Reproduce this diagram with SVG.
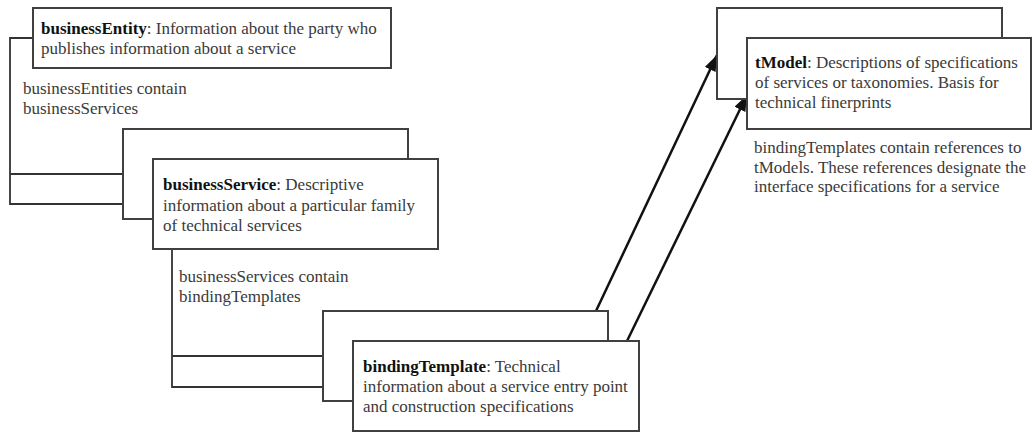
<svg xmlns="http://www.w3.org/2000/svg" width="1032" height="433" viewBox="0 0 1032 433">
<style>
  .box { fill: #ffffff; stroke: #404040; stroke-width: 2; }
  .link { fill: none; stroke: #333333; stroke-width: 1.8; }
  .arrow { fill: none; stroke: #111111; stroke-width: 2.5; marker-end: url(#head); }
  text { font-family: "Liberation Serif", "Times New Roman", serif; font-size: 17px; fill: #3a3a3a; }
  .b { font-weight: bold; fill: #111111; }
</style>
<defs>
  <marker id="head" markerUnits="userSpaceOnUse" markerWidth="18" markerHeight="14" refX="16" refY="6" orient="auto">
    <path d="M0,0 L16,6 L0,12 Z" fill="#111111"/>
  </marker>
</defs>
<rect width="1032" height="433" fill="#ffffff"/>

<g id="connectors">
  <path class="link" d="M33,38 H10 V204 H153 M10,174 H123"/>
  <path class="link" d="M172,249 V387 H353 M172,356 H323"/>
  <path class="arrow" d="M596,311 L717,55"/>
  <path class="arrow" d="M627,341 L747,95"/>
</g>

<g id="businessEntity">
  <rect class="box" x="33" y="8" width="358" height="60"/>
  <text x="41" y="34"><tspan class="b">businessEntity</tspan>: Information about the party who</text>
  <text x="41" y="54">publishes information about a service</text>
</g>
<g id="label-entities">
  <text x="23" y="94">businessEntities contain</text>
  <text x="23" y="114">businessServices</text>
</g>

<g id="businessService">
  <rect class="box" x="123" y="129" width="285" height="90"/>
  <rect class="box" x="153" y="159" width="285" height="90"/>
  <text x="163" y="190"><tspan class="b">businessService</tspan>: Descriptive</text>
  <text x="163" y="211">information about a particular family</text>
  <text x="163" y="231">of technical services</text>
</g>
<g id="label-services">
  <text x="179" y="282">businessServices contain</text>
  <text x="179" y="302">bindingTemplates</text>
</g>

<g id="bindingTemplate">
  <rect class="box" x="323" y="311" width="285" height="90"/>
  <rect class="box" x="353" y="341" width="286" height="90"/>
  <text x="363" y="372"><tspan class="b">bindingTemplate</tspan>: Technical</text>
  <text x="363" y="392">information about a service entry point</text>
  <text x="363" y="412">and construction specifications</text>
</g>

<g id="tModel">
  <rect class="box" x="717" y="8" width="285" height="91"/>
  <rect class="box" x="747" y="38" width="284" height="91"/>
  <text x="755" y="68"><tspan class="b">tModel</tspan>: Descriptions of specifications</text>
  <text x="755" y="88">of services or taxonomies. Basis for</text>
  <text x="755" y="108">technical finerprints</text>
</g>
<g id="label-tmodels">
  <text x="754" y="153">bindingTemplates contain references to</text>
  <text x="754" y="173">tModels. These references designate the</text>
  <text x="754" y="192">interface specifications for a service</text>
</g>
</svg>
